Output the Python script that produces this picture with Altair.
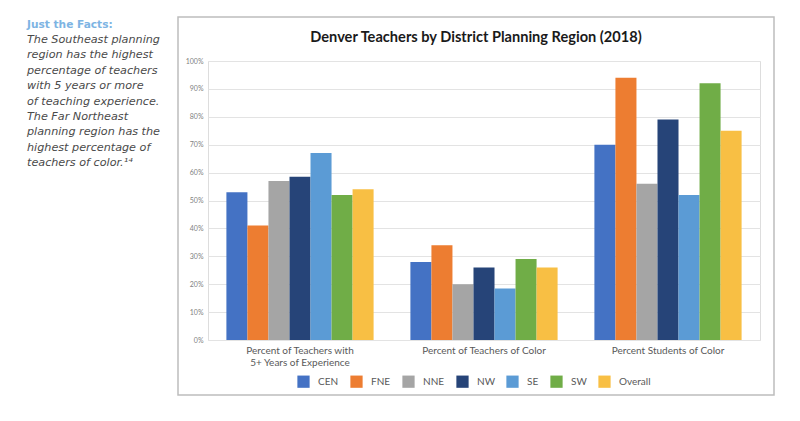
import altair as alt
import pandas as pd

categories = ["Percent of Teachers with|5+ Years of Experience",
              "Percent of Teachers of Color",
              "Percent Students of Color"]
regions = ["CEN", "FNE", "NNE", "NW", "SE", "SW", "Overall"]
colors = ["#4472C4", "#ED7D31", "#A5A5A5", "#264478", "#5B9BD5", "#70AD47", "#F8BF44"]

cen = [0.53, 0.28, 0.70]
fne = [0.41, 0.34, 0.94]
nne = [0.57, 0.20, 0.56]
nw = [0.585, 0.26, 0.79]
se = [0.67, 0.185, 0.52]
sw = [0.52, 0.29, 0.92]
overall = [0.54, 0.26, 0.75]

title_text = "Denver Teachers by District Planning Region (2018)"
facts_head = "Just the Facts:"
facts_lines = ["The Southeast planning", "region has the highest",
               "percentage of teachers", "with 5 years or more",
               "of teaching experience.", "The Far Northeast",
               "planning region has the", "highest percentage of",
               "teachers of color.\u00b9\u2074"]

series = [cen, fne, nne, nw, se, sw, overall]
rows = []
for r, vals in zip(regions, series):
    for c, v in zip(categories, vals):
        rows.append({"category": c, "region": r, "value": v})
df = pd.DataFrame(rows)

FONT = "Lato"
SIDE_FONT = "DejaVu Sans"

bars = alt.Chart(df).mark_bar().encode(
    x=alt.X("category:N", sort=categories, title=None,
            scale=alt.Scale(paddingInner=0.2, paddingOuter=0.1),
            axis=alt.Axis(labelExpr="split(datum.label, '|')", labelAngle=0,
                          labelFontSize=10, labelColor="#595959", labelFont=FONT,
                          domain=False, ticks=False, labelPadding=5,
                          labelLineHeight=12)),
    xOffset=alt.XOffset("region:N", sort=regions),
    y=alt.Y("value:Q", title=None,
            scale=alt.Scale(domain=[0, 1]),
            axis=alt.Axis(format="%", values=[i / 10 for i in range(11)],
                          labelFontSize=7, labelColor="#7F7F7F", labelFont=FONT,
                          domain=False, ticks=False, labelPadding=5,
                          gridColor="#E3E3E3")),
    color=alt.Color("region:N", sort=regions,
                    scale=alt.Scale(domain=regions, range=colors),
                    legend=alt.Legend(title=None, orient="none", direction="horizontal",
                                      legendX=89, legendY=314,
                                      symbolType="square", symbolSize=150,
                                      symbolStrokeWidth=0, symbolOpacity=1,
                                      labelFontSize=10, labelColor="#595959",
                                      labelFont=FONT, labelOffset=8,
                                      columnPadding=11)),
)

one = alt.Data(values=[{}])

box = alt.Chart(one).mark_rect(fill="white", fillOpacity=0, stroke="#BDBDBD",
                               strokeWidth=1.5).encode(
    x=alt.value(-30), x2=alt.value(566), y=alt.value(-44), y2=alt.value(334))

title = alt.Chart(one).mark_text(text=title_text, font=FONT, fontSize=14.6,
                                 fontWeight="bold", color="#1a1a1a",
                                 align="center", baseline="middle").encode(
    x=alt.value(268), y=alt.value(-23))

head = alt.Chart(one).mark_text(text=facts_head, font=SIDE_FONT, fontSize=10.6,
                                fontWeight="bold", color="#7DB4E3",
                                align="left", baseline="middle").encode(
    x=alt.value(-181), y=alt.value(-36))

body = alt.Chart(one).mark_text(text=facts_lines, font=SIDE_FONT, fontSize=11.2,
                                fontStyle="italic", color="#4A4A4A",
                                lineHeight=15.4,
                                align="left", baseline="middle").encode(
    x=alt.value(-181), y=alt.value(-21))

chart = alt.layer(box, bars, title, head, body).properties(
    width=552, height=279,
    autosize=alt.AutoSizeParams(type="none"),
    padding={"left": 200, "top": 53, "right": 32, "bottom": 73},
).configure_view(stroke=None).configure(background="white")

chart.save("out.html", embed_options={"renderer": "svg", "actions": False})
